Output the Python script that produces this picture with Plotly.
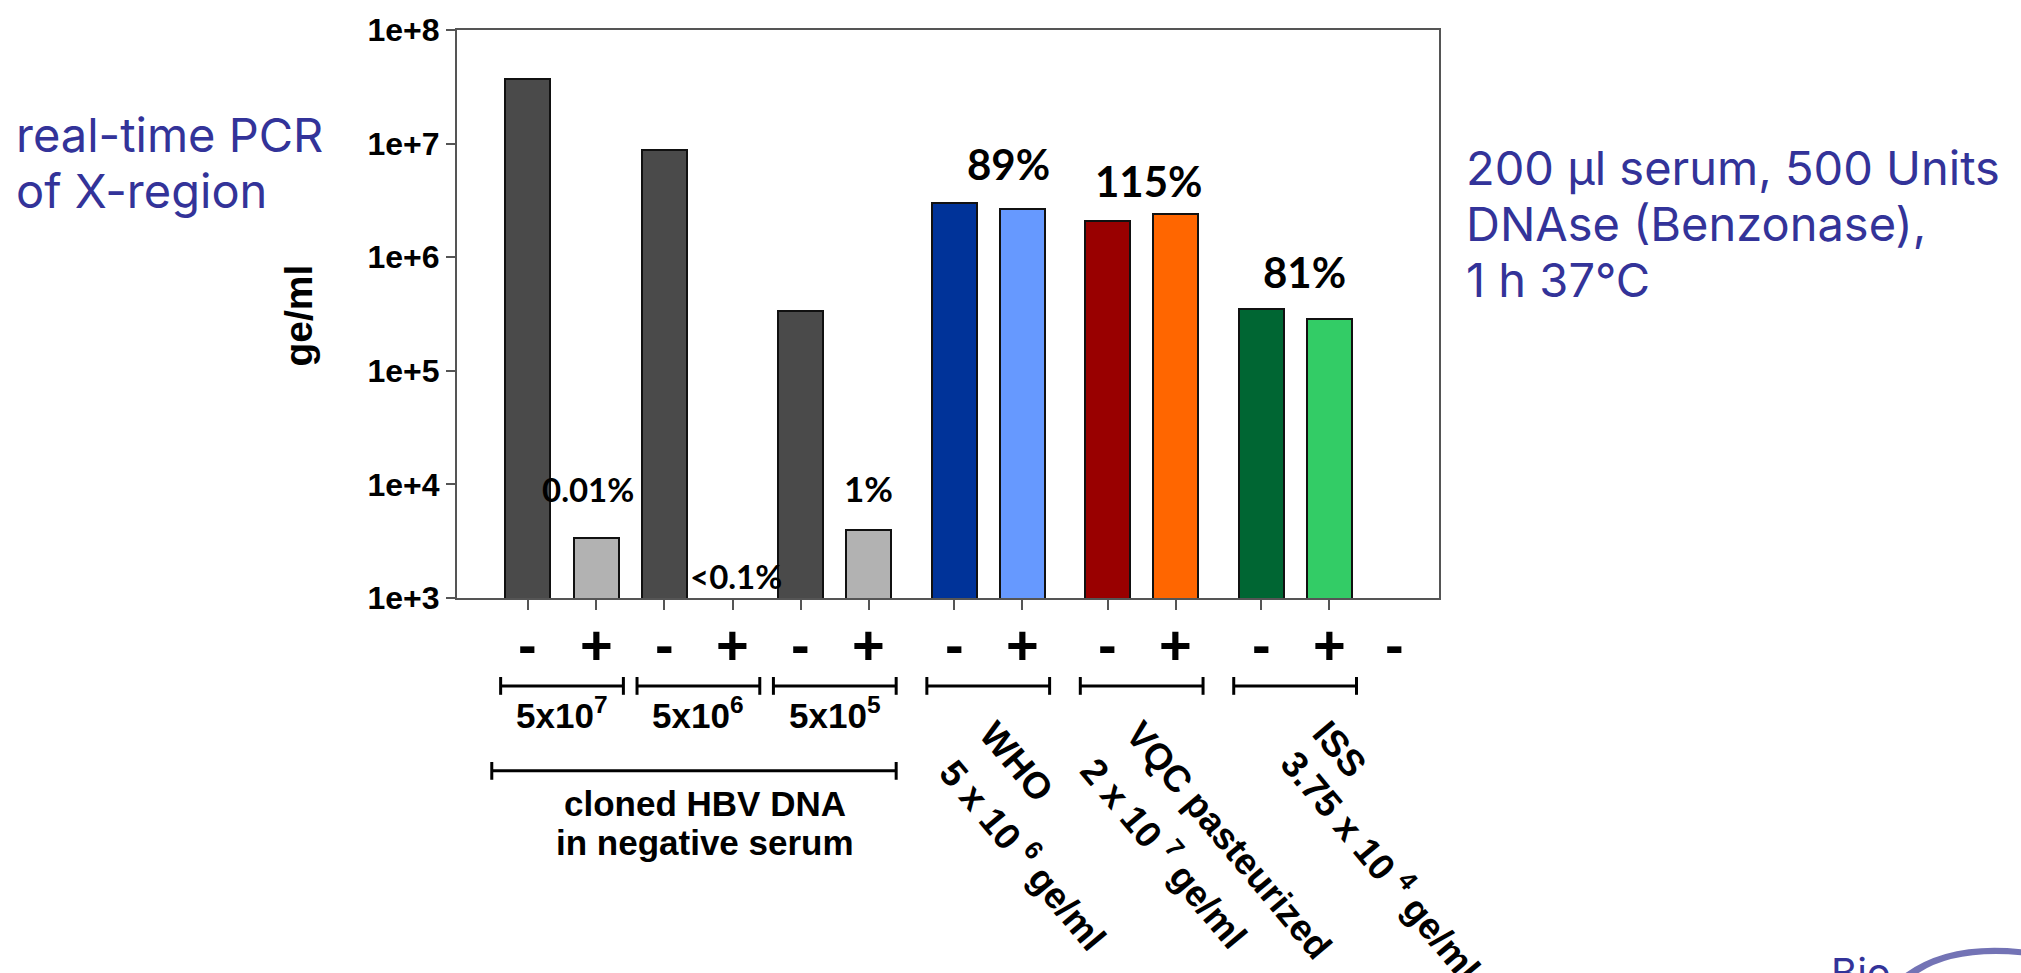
import math
import plotly.graph_objects as go

# ---- data -----------------------------------------------------------------
group_names = ["5x10<sup>7</sup>", "5x10<sup>6</sup>", "5x10<sup>5</sup>", "WHO", "VQC", "ISS"]
untreated_ge_ml = [3.68e7, 8.8e6, 3.37e5, 3.0e6, 2.07e6, 3.5e5]      # "-" (no DNase)
treated_ge_ml = [3.4e3, None, 3.97e3, 2.67e6, 2.38e6, 2.85e5]       # "+" (DNase)
recovery_text = ["0.01%", "<0.1%", "1%", "89%", "115%", "81%"]
ytick_values = [1e3, 1e4, 1e5, 1e6, 1e7, 1e8]
ytick_text = ["1e+3", "1e+4", "1e+5", "1e+6", "1e+7", "1e+8"]
standard_lines = [
    ["WHO", "5 x 10 <sup>6</sup> ge/ml"],
    ["VQC pasteurized", "2 x 10 <sup>7</sup> ge/ml"],
    ["ISS", "3.75 x 10 <sup>4</sup> ge/ml"],
]

# ---- styling / layout ------------------------------------------------------
minus_colors = ["#4a4a4a", "#4a4a4a", "#4a4a4a", "#003399", "#990000", "#006633"]
plus_colors = ["#b2b2b2", "#b2b2b2", "#b2b2b2", "#6699ff", "#ff6600", "#33cc66"]
group_gap = [0, 0, 0, 0.25, 0.25, 0.25]   # extra spacing before each group (slots)
BLUE = "#333399"
AXIS = "#555555"
BOLD_SANS = "Liberation Sans, Arial, sans-serif"
PCT_FONT = "Lato, sans-serif"
TEXT_FONT = "Inter, Roboto, sans-serif"

W, H = 2021, 973
PL, PR, PT, PB = 457, 1439, 23, 598


def px_x(p):
    return (p - PL) / (PR - PL)


def px_y(p):
    return (PB - p) / (PB - PT)


# slot positions of the bar pairs
starts = []
pos = 0.0
for g in group_gap:
    pos += g
    starts.append(pos)
    pos += 2
x_minus = [s for s in starts]
x_plus = [s + 1 for s in starts]
pair_mid = [s + 0.5 for s in starts]

fig = go.Figure()
fig.add_trace(go.Bar(x=x_minus, y=untreated_ge_ml, width=0.66,
                     marker=dict(color=minus_colors, line=dict(color="#111", width=2)),
                     showlegend=False, hoverinfo="y"))
fig.add_trace(go.Bar(x=x_plus, y=treated_ge_ml, width=0.66,
                     marker=dict(color=plus_colors, line=dict(color="#111", width=2)),
                     showlegend=False, hoverinfo="y"))

annotations = []

# recovery percentages, anchored on the bars they refer to
pct_anchor = []
for i in range(6):
    if i < 3:
        if treated_ge_ml[i] is None:
            pct_anchor.append((x_plus[i], 3.0))
        else:
            pct_anchor.append((x_plus[i], math.log10(treated_ge_ml[i])))
    else:
        pct_anchor.append((pair_mid[i], math.log10(max(untreated_ge_ml[i], treated_ge_ml[i]))))
pct_shift = [(-8, 49), (3, 22), (0, 42), (20, 39), (7, 33), (9, 37)]
pct_size = [33, 33, 35, 42, 42, 42]
for i, txt in enumerate(recovery_text):
    annotations.append(dict(x=pct_anchor[i][0], y=pct_anchor[i][1], xref="x", yref="y",
                            text="<b>%s</b>" % txt.replace("<", "&lt;"), showarrow=False,
                            xanchor="center", yanchor="middle",
                            xshift=pct_shift[i][0], yshift=pct_shift[i][1],
                            font=dict(family=PCT_FONT, size=pct_size[i], color="black")))

# DNase - / + signs under each bar
sign_y = px_y(645)
for i in range(6):
    for xv, s in ((x_minus[i], "-"), (x_plus[i], "+")):
        annotations.append(dict(x=xv, y=sign_y, xref="x", yref="paper", text="<b>%s</b>" % s,
                                showarrow=False, xanchor="center", yanchor="middle",
                                font=dict(family=BOLD_SANS, size=56, color="black")))
annotations.append(dict(x=x_plus[-1] + 0.96, y=sign_y, xref="x", yref="paper", text="<b>-</b>",
                        showarrow=False, xanchor="center", yanchor="middle",
                        font=dict(family=BOLD_SANS, size=56, color="black")))

shapes = []


def bracket(x0, x1, yc, half):
    line = dict(color="black", width=3)
    shapes.append(dict(type="line", xref="x", yref="paper", x0=x0, x1=x1,
                       y0=px_y(yc), y1=px_y(yc), line=line))
    for xe in (x0, x1):
        shapes.append(dict(type="line", xref="x", yref="paper", x0=xe, x1=xe,
                           y0=px_y(yc - half), y1=px_y(yc + half), line=line))


for i in range(6):
    bracket(pair_mid[i] - 0.9, pair_mid[i] + 0.9, 687, 9)
bracket(pair_mid[0] - 0.9 - 0.13, pair_mid[2] + 0.9, 773, 9)

for i in range(3):
    annotations.append(dict(x=pair_mid[i], y=px_y(714), xref="x", yref="paper",
                            text="<b>%s</b>" % group_names[i], showarrow=False,
                            xanchor="center", yanchor="middle",
                            font=dict(family=BOLD_SANS, size=35, color="black")))

for j, line in enumerate(["cloned HBV DNA", "in negative serum"]):
    annotations.append(dict(x=px_x(705), y=px_y(806 + 40 * j), xref="paper", yref="paper",
                            text="<b>%s</b>" % line, showarrow=False,
                            xanchor="center", yanchor="middle",
                            font=dict(family=BOLD_SANS, size=35, color="black")))

# rotated labels of the reference standards
rot_centers = [[(1016, 764), (1024, 857)], [(1229, 843), (1165, 855)], [(1340, 751), (1382, 868)]]
for k, lines in enumerate(standard_lines):
    for j, line in enumerate(lines):
        cx, cy = rot_centers[k][j]
        annotations.append(dict(x=px_x(cx), y=px_y(cy), xref="paper", yref="paper",
                                text="<b>%s</b>" % line, showarrow=False, textangle=50,
                                xanchor="center", yanchor="middle",
                                font=dict(family=BOLD_SANS, size=37, color="black")))

# y axis title
annotations.append(dict(x=px_x(298), y=px_y(312), xref="paper", yref="paper",
                        text="<b>ge/ml</b>", showarrow=False, textangle=-90,
                        xanchor="center", yanchor="middle",
                        font=dict(family=BOLD_SANS, size=39, color="black")))

# side notes
for j, line in enumerate(["real-time PCR", "of X-region"]):
    annotations.append(dict(x=px_x(14), y=px_y(129 + 56 * j), xref="paper", yref="paper",
                            text=line, showarrow=False, xanchor="left", yanchor="middle",
                            font=dict(family=TEXT_FONT, size=47, color=BLUE)))
for j, line in enumerate(["200 µl serum, 500 Units", "DNAse (Benzonase),", "1 h 37°C"]):
    annotations.append(dict(x=px_x(1464), y=px_y(162 + 57 * j), xref="paper", yref="paper",
                            text=line, showarrow=False, xanchor="left", yanchor="middle",
                            font=dict(family=TEXT_FONT, size=47, color=BLUE)))

# corner logo fragment
annotations.append(dict(x=px_x(1829), y=px_y(950), xref="paper", yref="paper",
                        text="Bio", showarrow=False, xanchor="left", yanchor="top",
                        font=dict(family=TEXT_FONT, size=40, color=BLUE)))


def pp(x, y):
    return "%.5f,%.5f" % (px_x(x), px_y(y))


shapes.append(dict(type="path", xref="paper", yref="paper",
                   path="M %s Q %s %s L %s Q %s %s Z" % (
                       pp(1905, 978), pp(1950, 945), pp(2025, 954), pp(2025, 960),
                       pp(1955, 953), pp(1918, 978)),
                   fillcolor="#5a5aa8", line=dict(width=0), opacity=0.85))

fig.update_layout(
    width=W, height=H,
    margin=dict(l=PL, r=W - PR, t=PT, b=H - PB),
    paper_bgcolor="white", plot_bgcolor="white",
    bargap=0, showlegend=False,
    annotations=annotations, shapes=shapes,
    xaxis=dict(range=[-1.04, 13.36], tickvals=x_minus + x_plus, ticktext=[""] * 12,
               ticks="outside", ticklen=10, tickwidth=2, tickcolor=AXIS,
               showline=True, linecolor=AXIS, linewidth=2, mirror=True,
               showgrid=False, zeroline=False, fixedrange=True),
    yaxis=dict(type="log", range=[3, 8], tickvals=ytick_values,
               ticktext=["<b>%s</b>" % t for t in ytick_text],
               tickfont=dict(family=BOLD_SANS, size=32, color="black"),
               ticks="outside", ticklen=9, tickwidth=2, tickcolor=AXIS,
               showline=True, linecolor=AXIS, linewidth=2, mirror=True,
               showgrid=False, zeroline=False, fixedrange=True),
)

fig.write_html("out.html")
